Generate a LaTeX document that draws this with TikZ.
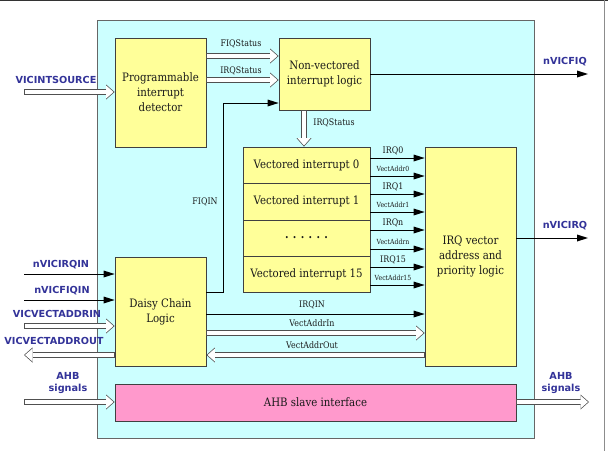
\documentclass[tikz,border=0pt]{standalone}
\usepackage{fontspec}
\usetikzlibrary{arrows.meta}
\newfontfamily\bodyfont[FakeStretch=0.88]{DejaVu Serif}
\newfontfamily\sigfam{DejaVu Sans}
\definecolor{cyanbg}{HTML}{CCFFFF}
\definecolor{yelbox}{HTML}{FFFF99}
\definecolor{pinkbox}{HTML}{FF99CC}
\definecolor{sigblue}{HTML}{333399}
\definecolor{holgray}{HTML}{505050}
\definecolor{txt}{HTML}{1A1A1A}
\newcommand\hollowlink[2]{\draw[holout] #1 -- #2; \draw[holin] #1 -- #2;}
\tikzset{
  blk/.style={draw=black!75, line width=0.8pt, fill=yelbox, inner sep=0pt, align=center,
    text=txt, font=\bodyfont\fontsize{11.6}{15}\selectfont},
  sig/.style={inner sep=0pt, align=center, text=sigblue,
    font=\sigfam\bfseries\fontsize{9.7}{12}\selectfont},
  lab/.style={inner sep=0pt, text=txt, font=\bodyfont\fontsize{9}{11}\selectfont},
  slab/.style={inner sep=0pt, text=txt, font=\bodyfont\fontsize{7}{9}\selectfont},
  sarr/.style={draw=black, line width=0.8pt, -{Triangle[length=11pt,width=7pt,line width=0pt]}},
  holout/.style={draw=holgray, line width=5.2pt, -{Triangle[length=8.5pt,width=15pt,line width=0pt]}},
  holin/.style={draw=white, line width=3.6pt, shorten <=0.8pt, shorten >=1.1pt,
    -{Triangle[length=7.4pt,width=13pt,line width=0pt]}}
}
\begin{document}
\begin{tikzpicture}[x=1pt,y=-1pt]
\useasboundingbox (0,0) rectangle (608,451);
\fill[white] (0,0) rectangle (608,451);
\draw[black!80, line width=1.2pt] (0,0.6) -- (608,0.6);
\draw[black!45, line width=1pt] (604.5,0) -- (604.5,451);

% main block
\node[draw=black!60, line width=0.8pt, fill=cyanbg, minimum width=437, minimum height=418, inner sep=0pt] (main) at (315.5,229) {};

% inner blocks
\node[blk, minimum width=91, minimum height=109] (pid) at (160.5,92.5) {Programmable\\interrupt\\detector};
\node[blk, minimum width=91, minimum height=72] (nvl) at (324.5,74) {Non-vectored\\interrupt logic};
\node[blk, minimum width=127, minimum height=36] (v0) at (306.5,165) {Vectored interrupt 0};
\node[blk, minimum width=127, minimum height=37] (v1) at (306.5,201.5) {Vectored interrupt 1};
\node[blk, minimum width=127, minimum height=36] (vn) at (306.5,238) {\textbf{.} \textbf{.} \textbf{.} \textbf{.} \textbf{.} \textbf{.}};
\node[blk, minimum width=127, minimum height=36] (v15) at (306.5,274) {Vectored interrupt 15};
\node[blk, minimum width=91, minimum height=219] (irq) at (470.5,256.5) {IRQ vector\\address and\\priority logic};
\node[blk, minimum width=91, minimum height=109] (dcl) at (160.5,311.5) {Daisy Chain\\Logic};
\node[blk, fill=pinkbox, minimum width=401, minimum height=37] (ahb) at (315.5,402.5) {AHB slave interface};

% free ends
\coordinate (srcin) at (24,92);
\coordinate (fiqout) at (588,74);
\coordinate (irqout) at (588,238);
\coordinate (irqin) at (24,274);
\coordinate (fiqin) at (24,300);
\coordinate (vain) at (24,326);
\coordinate (vaout) at (24,355);
\coordinate (ahbl) at (24,402);
\coordinate (ahbr) at (589,402);
\coordinate (fiqbend) at (223,103);

% hollow (bus) connectors
\hollowlink{(srcin)}{(pid.west |- srcin)}
\hollowlink{(pid.east |- 0,56)}{(nvl.west |- 0,56)}
\hollowlink{(pid.east |- 0,80)}{(nvl.west |- 0,80)}
\hollowlink{(nvl.south -| 304,0)}{(v0.north -| 304,0)}
\hollowlink{(vain)}{(dcl.west |- vain)}
\hollowlink{(dcl.west |- vaout)}{(vaout)}
\hollowlink{(dcl.east |- 0,333)}{(irq.west |- 0,333)}
\hollowlink{(irq.west |- 0,355)}{(dcl.east |- 0,355)}
\hollowlink{(ahbl)}{(ahb.west |- ahbl)}
\hollowlink{(ahb.east |- ahbr)}{(ahbr)}

% single-line connectors
\draw[sarr] (nvl.east |- fiqout) -- (fiqout);
\draw[sarr] (irq.east |- irqout) -- (irqout);
\draw[sarr] (dcl.east |- 0,292) -| (fiqbend) -- (nvl.west |- fiqbend);
\draw[sarr] (irqin) -- (dcl.west |- irqin);
\draw[sarr] (fiqin) -- (dcl.west |- fiqin);
\draw[sarr] (dcl.east |- 0,314) -- (irq.west |- 0,314);
\foreach \yy in {158,176,194,212,230,249,267,285}
  \draw[sarr] (v0.east |- 0,\yy) -- (irq.west |- 0,\yy);

% internal labels
\node[lab] (lfiqs) at (241,44) {FIQStatus};
\node[lab] (lirqs) at (241,71) {IRQStatus};
\node[lab] (lirqs2) at (334,123) {IRQStatus};
\node[lab] (lfiqin) at (205,202) {FIQIN};
\node[lab] (lirq0) at (393,151) {IRQ0};
\node[slab] (lva0) at (393,169) {VectAddr0};
\node[lab] (lirq1) at (393,187) {IRQ1};
\node[slab] (lva1) at (393,205) {VectAddr1};
\node[lab] (lirqn) at (393,223) {IRQn};
\node[slab] (lvan) at (393,242) {VectAddrn};
\node[lab] (lirq15) at (393,260) {IRQ15};
\node[slab] (lva15) at (393,278) {VectAddr15};
\node[lab] (lirqin) at (312,305) {IRQIN};
\node[lab] (lvain) at (312,323) {VectAddrIn};
\node[lab] (lvaout) at (312,345) {VectAddrOut};

% external signal labels
\node[sig] (svis) at (56,80) {VICINTSOURCE};
\node[sig] (sfiq) at (565,62) {nVICFIQ};
\node[sig] (sirq) at (565,226) {nVICIRQ};
\node[sig] (sirqin) at (61,265) {nVICIRQIN};
\node[sig] (sfiqin) at (62,291) {nVICFIQIN};
\node[sig] (svain) at (57,314) {VICVECTADDRIN};
\node[sig] (svaout) at (54,341) {VICVECTADDROUT};
\node[sig] (sahbl) at (68,383) {AHB\\signals};
\node[sig] (sahbr) at (561,383) {AHB\\signals};
\end{tikzpicture}
\end{document}
